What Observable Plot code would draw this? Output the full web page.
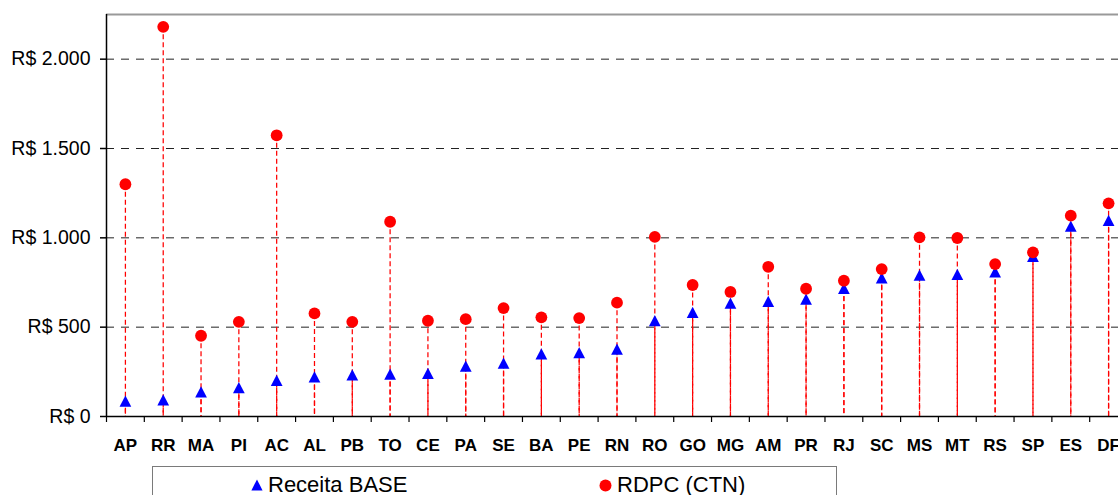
<!DOCTYPE html>
<html>
<head>
<meta charset="utf-8">
<script src="https://cdn.jsdelivr.net/npm/d3@7"></script>
<script src="https://cdn.jsdelivr.net/npm/@observablehq/plot@0.6"></script>
<style>
  html, body { margin: 0; padding: 0; background: #fff; overflow: hidden; }
  #wrap { position: relative; width: 1118px; height: 495px; font-family: "Liberation Sans", Arial, sans-serif; }
  #legend {
    position: absolute; left: 152px; top: 466px; width: 685px; height: 44px;
    border: 1.5px solid #7a7a7a; box-sizing: border-box; background: #fff;
  }
  .item { position: absolute; top: 5px; display: flex; align-items: center; font-size: 22px; color: #000; white-space: nowrap; }
  .item svg { margin-right: 5px; }
</style>
</head>
<body>
<div id="wrap">
  <div id="chart"></div>
  <div id="legend">
    <div class="item" style="left:98px"><svg width="12" height="12" viewBox="-6 -6 12 12"><path d="M0,-5.6L5.6,5.4L-5.6,5.4Z" fill="#0000ff"/></svg>Receita BASE</div>
    <div class="item" style="left:446px"><svg width="13" height="13" viewBox="-6.5 -6.5 13 13"><circle r="6" fill="#ff0000"/></svg>RDPC (CTN)</div>
  </div>
</div>
<script>
// Unidades da federação, em ordem crescente de receita base
const states = ["AP","RR","MA","PI","AC","AL","PB","TO","CE","PA","SE","BA","PE","RN","RO","GO","MG","AM","PR","RJ","SC","MS","MT","RS","SP","ES","DF"];
// Receita BASE per capita (R$)
const receitaBase = [86, 93, 138, 162, 202, 222, 233, 237, 241, 282, 299, 351, 358, 377, 536, 583, 635, 644, 657, 717, 776, 791, 795, 810, 897, 1066, 1098];
// RDPC (CTN) per capita (R$)
const rdpc = [1300, 2181, 452, 530, 1574, 577, 530, 1090, 536, 545, 607, 555, 551, 637, 1005, 736, 697, 838, 715, 760, 825, 1003, 999, 853, 919, 1124, 1193];
// Marcas do eixo vertical
const yTicks = [0, 500, 1000, 1500, 2000];
const yMax = 2250;

const base = states.map((uf, i) => ({uf, value: receitaBase[i]}));
const ctn = states.map((uf, i) => ({uf, value: rdpc[i]}));

const thousands = d3.formatLocale({decimal: ",", thousands: ".", grouping: [3], currency: ["R$ ", ""]}).format(",");
const brl = d => "R$ " + thousands(d);

const width = 1118, height = 460;
const marginLeft = 106, marginRight = -9, marginTop = 14, marginBottom = 44;
const step = (width - marginLeft - marginRight) / states.length;

// Triângulo centrado pela caixa delimitadora
const triangle = {
  draw(context, size) {
    const r = Math.sqrt(size / Math.PI);
    const w = 1.25 * r, h = 1.2 * r;
    context.moveTo(0, -h);
    context.lineTo(w, h);
    context.lineTo(-w, h);
    context.closePath();
  }
};

const stem = {stroke: "#ff0000", strokeWidth: 1.25, strokeDasharray: "5,3"};

const chart = Plot.plot({
  width, height, marginLeft, marginRight, marginTop, marginBottom,
  style: {fontFamily: "'Liberation Sans', Arial, sans-serif", background: "#fff", color: "#000"},
  x: {type: "band", domain: states, padding: 0, round: false, axis: null},
  y: {domain: [0, yMax], axis: null},
  marks: [
    // grade horizontal tracejada
    Plot.ruleY(yTicks.filter(d => d > 0), {stroke: "#222", strokeWidth: 1, strokeDasharray: "8,7"}),
    // borda superior da área de plotagem
    Plot.ruleY([yMax], {stroke: "#999", strokeWidth: 1.8}),
    // hastes verticais do valor até zero
    Plot.ruleX(ctn, {x: "uf", y1: "value", y2: 0, ...stem}),
    Plot.ruleX(base, {x: "uf", y1: "value", y2: 0, ...stem}),
    // eixos
    Plot.ruleY([0], {stroke: "#000", strokeWidth: 1.5}),
    Plot.ruleX([states[0]], {dx: -step / 2, y1: 0, y2: yMax, stroke: "#000", strokeWidth: 1.5}),
    Plot.axisY(yTicks, {label: null, tickSize: 6, tickPadding: 10, tickFormat: brl, fontSize: 19.5, stroke: "#000", strokeWidth: 1.5}),
    Plot.axisX({label: null, tickSize: 6, tickFormat: () => "", dx: -step / 2, stroke: "#000", strokeWidth: 1.2}),
    Plot.axisX({label: null, tickSize: 0, tickPadding: 22, fontSize: 17, fontWeight: "bold"}),
    // pontos
    Plot.dot(base, {x: "uf", y: "value", symbol: triangle, r: 4.7, fill: "#0000ff"}),
    Plot.dot(ctn, {x: "uf", y: "value", r: 5.9, fill: "#ff0000"})
  ]
});

document.getElementById("chart").appendChild(chart);
</script>
</body>
</html>
